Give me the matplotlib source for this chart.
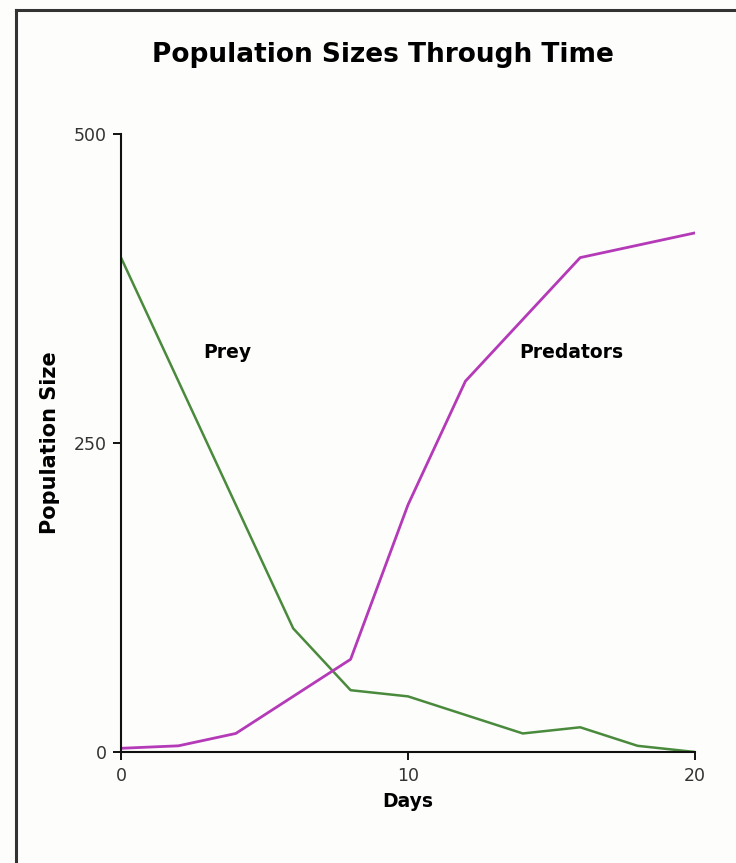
import matplotlib
matplotlib.use("Agg")
import matplotlib.pyplot as plt
from matplotlib.lines import Line2D

days = [0, 2, 4, 6, 8, 10, 12, 14, 16, 18, 20]
prey = [400, 300, 200, 100, 50, 45, 30, 15, 20, 5, 0]
predators = [3, 5, 15, 45, 75, 200, 300, 350, 400, 410, 420]
x_ticks = [0, 10, 20]
y_ticks = [0, 250, 500]

W, H = 736, 863
fig = plt.figure(figsize=(W / 100, H / 100), dpi=100)
fig.patch.set_facecolor("#fdfdfc")

# frame lines (top and left visible in reference)
fig.add_artist(Line2D([16 / W, 1.0], [1 - 10 / H, 1 - 10 / H], color="#333333", lw=2.2,
                      transform=fig.transFigure))
fig.add_artist(Line2D([16 / W, 16 / W], [0, 1 - 10 / H], color="#333333", lw=2.2,
                      transform=fig.transFigure))

ax = fig.add_axes([121 / W, (H - 752) / H, (695 - 121) / W, (752 - 134) / H])
ax.set_facecolor("none")

ax.plot(days, prey, color="#4a8a3c", lw=1.8)
ax.plot(days, predators, color="#b43ab8", lw=2.0)

ax.set_xlim(0, 20)
ax.set_ylim(0, 500)
ax.set_xticks(x_ticks)
ax.set_yticks(y_ticks)
ax.spines["top"].set_visible(False)
ax.spines["right"].set_visible(False)
for s in ("left", "bottom"):
    ax.spines[s].set_linewidth(1.5)
    ax.spines[s].set_color("#111111")
ax.tick_params(direction="out", length=6, width=1.4, color="#111111",
               labelsize=12.5, labelcolor="#333333")
ax.tick_params(axis="x", pad=5)
ax.tick_params(axis="y", pad=4)

ax.set_xlabel("Days", fontsize=13.5, fontweight="bold", labelpad=5)
ax.set_ylabel("Population Size", fontsize=15, fontweight="bold", labelpad=10)

ax.text(3.7, 323, "Prey", fontsize=13.5, fontweight="bold", ha="center", va="center")
ax.text(15.7, 323, "Predators", fontsize=13.5, fontweight="bold", ha="center", va="center")

fig.text(383 / W, 1 - 55 / H, "Population Sizes Through Time", fontsize=19,
         fontweight="bold", ha="center", va="center")

fig.savefig("out.png", dpi=100, facecolor=fig.get_facecolor())
